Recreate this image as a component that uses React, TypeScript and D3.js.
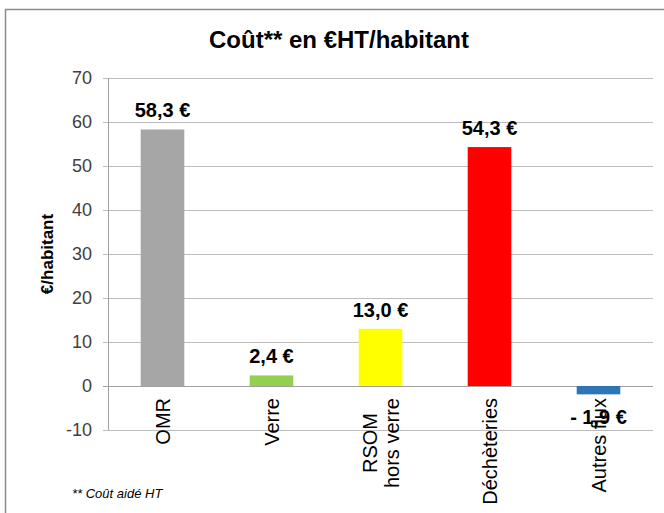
import React, { useEffect, useRef } from 'react'
import * as d3 from 'd3'

const categories = ['OMR', 'Verre', 'RSOM\nhors verre', 'Déchèteries', 'Autres flux']
const values = [58.3, 2.4, 13.0, 54.3, -1.9]
const valueLabels = ['58,3 €', '2,4 €', '13,0 €', '54,3 €', '- 1,9 €']
const colors = ['#a6a6a6', '#92d050', '#ffff00', '#ff0000', '#2e75b6']
const yTicks = [-10, 0, 10, 20, 30, 40, 50, 60, 70]

const W = 664
const H = 513

function drawChart(el: SVGSVGElement) {
  const svg = d3.select(el)
  svg.selectAll('*').remove()

  const left = 108, right = 653, top = 78, bottom = 430
  const x = d3.scaleBand<number>().domain(d3.range(categories.length)).range([left, right]).padding(0)
  const y = d3.scaleLinear().domain([-10, 70]).range([bottom, top])
  const barW = x.bandwidth() * 0.4
  const font = 'Liberation Sans, Arial, sans-serif'

  // outer frame
  svg.append('rect')
    .attr('x', 5.5).attr('y', 9.5)
    .attr('width', W + 10).attr('height', H + 10)
    .attr('fill', 'white').attr('stroke', '#8c8c8c').attr('stroke-width', 1.5)

  svg.append('text')
    .attr('x', 339).attr('y', 48)
    .attr('text-anchor', 'middle')
    .style('font-family', font)
    .style('font-weight', 'bold').style('font-size', '24px')
    .text('Coût** en €HT/habitant')

  // gridlines
  svg.append('g').selectAll('line').data(yTicks).join('line')
    .attr('x1', left - 5).attr('x2', right)
    .attr('y1', d => Math.round(y(d)) + 0.5).attr('y2', d => Math.round(y(d)) + 0.5)
    .attr('stroke', d => d === 0 ? '#a0a0a0' : '#bcbcbc').attr('stroke-width', 1)

  svg.append('line')
    .attr('x1', left + 0.5).attr('x2', left + 0.5)
    .attr('y1', top).attr('y2', bottom)
    .attr('stroke', '#a0a0a0')

  svg.append('g').selectAll('text').data(yTicks).join('text')
    .attr('x', left - 16).attr('y', d => y(d)).attr('dy', '0.35em')
    .attr('text-anchor', 'end')
    .style('font-family', font).style('font-size', '18px')
    .attr('fill', '#404040')
    .text(d => d)

  svg.append('text')
    .attr('transform', `translate(47,${(top + bottom) / 2}) rotate(-90)`)
    .attr('dy', '0.35em')
    .attr('text-anchor', 'middle')
    .style('font-family', font)
    .style('font-weight', 'bold').style('font-size', '17px')
    .text('€/habitant')

  // bars
  svg.append('g').selectAll('rect').data(values).join('rect')
    .attr('x', (d, i) => x(i)! + (x.bandwidth() - barW) / 2)
    .attr('width', barW)
    .attr('y', d => y(Math.max(0, d)))
    .attr('height', d => Math.abs(y(d) - y(0)))
    .attr('fill', (d, i) => colors[i])

  // category labels (rotated)
  const cat = svg.append('g')
  categories.forEach((c, i) => {
    const lines = c.split('\n')
    const cx = x(i)! + x.bandwidth() / 2
    const g = cat.append('g').attr('transform', `translate(${cx},398) rotate(-90)`)
    const t = g.append('text')
      .attr('text-anchor', 'end')
      .style('font-family', font).style('font-size', '20px')
    lines.forEach((ln, k) => {
      t.append('tspan').attr('x', 0)
        .attr('dy', k === 0 ? `${0.35 - (lines.length - 1) * 0.55}em` : '1.1em')
        .text(ln)
    })
    if (lines.length > 1) {
      const spans = t.selectAll<SVGTSpanElement, unknown>('tspan').nodes()
      const maxLen = d3.max(spans, s => s.getComputedTextLength()) || 0
      t.attr('text-anchor', 'middle')
      t.selectAll('tspan').attr('x', -maxLen / 2)
    }
  })

  // value labels
  svg.append('g').selectAll('text').data(values).join('text')
    .attr('x', (d, i) => x(i)! + x.bandwidth() / 2)
    .attr('y', d => d >= 0 ? y(d) - 12 : y(d) + 30)
    .attr('text-anchor', 'middle')
    .style('font-family', font)
    .style('font-weight', 'bold').style('font-size', '20px')
    .text((d, i) => valueLabels[i])

  svg.append('text')
    .attr('x', 72).attr('y', 498)
    .style('font-family', font)
    .style('font-style', 'italic').style('font-size', '13px')
    .text('** Coût aidé HT')
}

export default function App() {
  const ref = useRef<SVGSVGElement>(null)
  useEffect(() => {
    if (ref.current) drawChart(ref.current)
  }, [])
  return (
    <svg ref={ref} width={W} height={H}
      style={{ position: 'absolute', left: 0, top: 0, display: 'block', background: 'white' }} />
  )
}
